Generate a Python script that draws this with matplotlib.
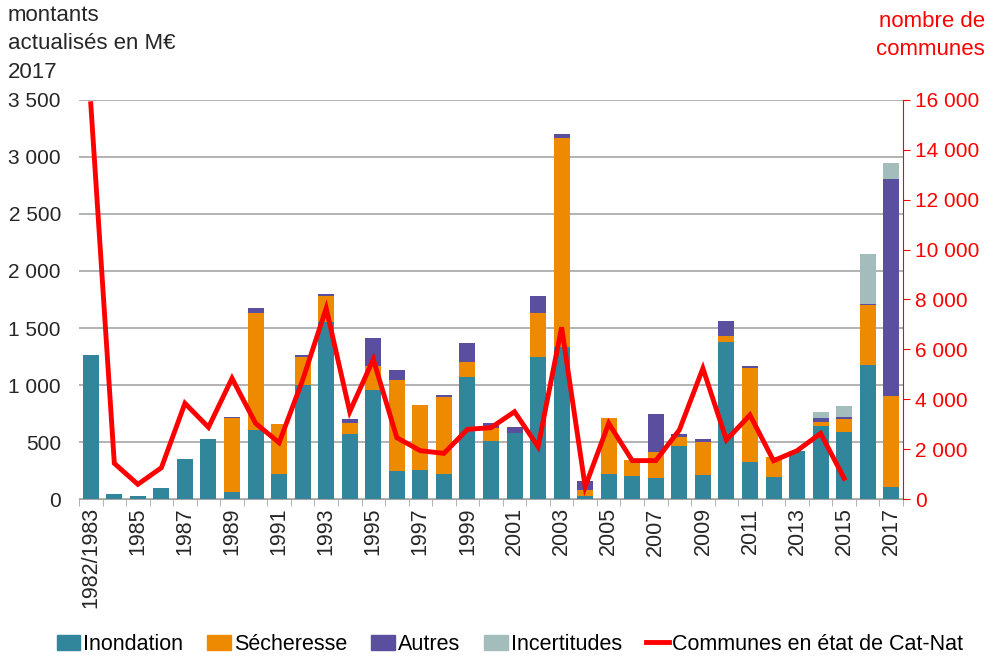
import matplotlib
matplotlib.use("Agg")
import matplotlib.pyplot as plt
import numpy as np
from matplotlib.ticker import FuncFormatter
from matplotlib.patches import Patch
from matplotlib.lines import Line2D

plt.rcParams['font.family'] = ['Liberation Sans', 'DejaVu Sans']

years = ["1982/1983"] + [str(y) for y in range(1984, 2018)]
inondation = [1260, 44, 25, 100, 350, 525, 60, 605, 219, 1000, 1555, 570, 956, 248, 254, 216,
              1067, 509, 576, 1248, 1336, 26, 219, 205, 187, 465, 210, 1374, 327, 196, 424,
              643, 585, 1175, 108]
secheresse = [0, 0, 0, 0, 0, 0, 650, 1030, 436, 248, 228, 100, 215, 800, 568, 680,
              132, 116, 0, 380, 1827, 53, 488, 140, 222, 82, 293, 56, 825, 175, 0,
              35, 114, 527, 795]
autres = [0, 0, 0, 0, 0, 0, 12, 37, 0, 15, 15, 35, 240, 87, 0, 20,
          166, 44, 58, 155, 35, 82, 5, 0, 334, 20, 21, 131, 12, 0, 0,
          29, 17, 5, 1901]
incertitudes = [0] * 31 + [59, 102, 442, 146]
communes = [15850, 1430, 590, 1256, 3838, 2875, 4840, 3036, 2258, 4772, 7647, 3501, 5602, 2458,
            1937, 1831, 2795, 2860, 3501, 2098, 6885, 494, 3036, 1540, 1540, 2767, 5240,
            2366, 3368, 1537, 1937, 2633, 829]

c_in = "#31869B"
c_se = "#EE8A00"
c_au = "#5A4E9E"
c_ic = "#A3BCBC"
c_red = "#FF0000"
c_txt = "#262626"

fig = plt.figure(figsize=(10, 6.56), dpi=100)
ax = fig.add_axes([0.079, 0.2393, 0.824, 0.6083])
x = np.arange(len(years))
w = 0.68
inon = np.array(inondation); sech = np.array(secheresse); aut = np.array(autres); inc = np.array(incertitudes)
ax.bar(x, inon, w, color=c_in, zorder=2)
ax.bar(x, sech, w, bottom=inon, color=c_se, zorder=2)
ax.bar(x, aut, w, bottom=inon + sech, color=c_au, zorder=2)
ax.bar(x, inc, w, bottom=inon + sech + aut, color=c_ic, zorder=2)

ax.set_xlim(-0.5, len(years) - 0.5)
ax.set_ylim(0, 3500)
ax.set_yticks(np.arange(0, 3501, 500))
fmt = FuncFormatter(lambda v, p: f"{int(v):,}".replace(",", " "))
ax.yaxis.set_major_formatter(fmt)
ax.grid(axis='y', color='#A6A6A6', linewidth=1.2, zorder=0)
ax.set_axisbelow(True)
for s in ['top', 'right', 'left']:
    ax.spines[s].set_visible(False)
ax.spines['bottom'].set_color('#A6A6A6')
ax.tick_params(axis='y', length=0, labelsize=15, pad=13, labelcolor=c_txt)
ax.set_xticks(x[::2])
ax.set_xticklabels(years[::2], rotation=90, fontsize=15.5, color=c_txt)
ax.tick_params(axis='x', length=0, pad=6)
ax.set_xticks(np.arange(-0.5, len(years), 1), minor=True)
ax.tick_params(axis='x', which='minor', length=5, color='#A6A6A6')

ax2 = ax.twinx()
ax2.set_position(ax.get_position())
ax2.plot(np.arange(len(communes)), communes, color=c_red, linewidth=3.5, zorder=5,
         solid_joinstyle='miter')
ax2.set_ylim(0, 16000)
ax2.set_yticks(np.arange(0, 16001, 2000))
ax2.yaxis.set_major_formatter(fmt)
for s in ['top', 'left', 'bottom']:
    ax2.spines[s].set_visible(False)
ax2.spines['right'].set_color(c_red)
ax2.tick_params(axis='y', colors=c_red, labelcolor=c_red, labelsize=15, length=5, direction='out')

fig.text(0.008, 0.992, "montants\nactualisés en M€\n2017", ha='left', va='top', fontsize=16,
         color=c_txt, linespacing=1.45)
fig.text(0.985, 0.983, "nombre de\ncommunes", ha='right', va='top', fontsize=16,
         color=c_red, linespacing=1.4)

handles = [Patch(color=c_in, label="Inondation"), Patch(color=c_se, label="Sécheresse"),
           Patch(color=c_au, label="Autres"), Patch(color=c_ic, label="Incertitudes"),
           Line2D([0], [0], color=c_red, linewidth=3.5, label="Communes en état de Cat-Nat")]
fig.legend(handles=handles, loc='lower center', bbox_to_anchor=(0.51, -0.028), ncol=5,
           frameon=False, fontsize=15.5, handlelength=1.1, handleheight=0.7,
           handletextpad=0.15, columnspacing=1.1)

fig.savefig("out.png", dpi=100)
